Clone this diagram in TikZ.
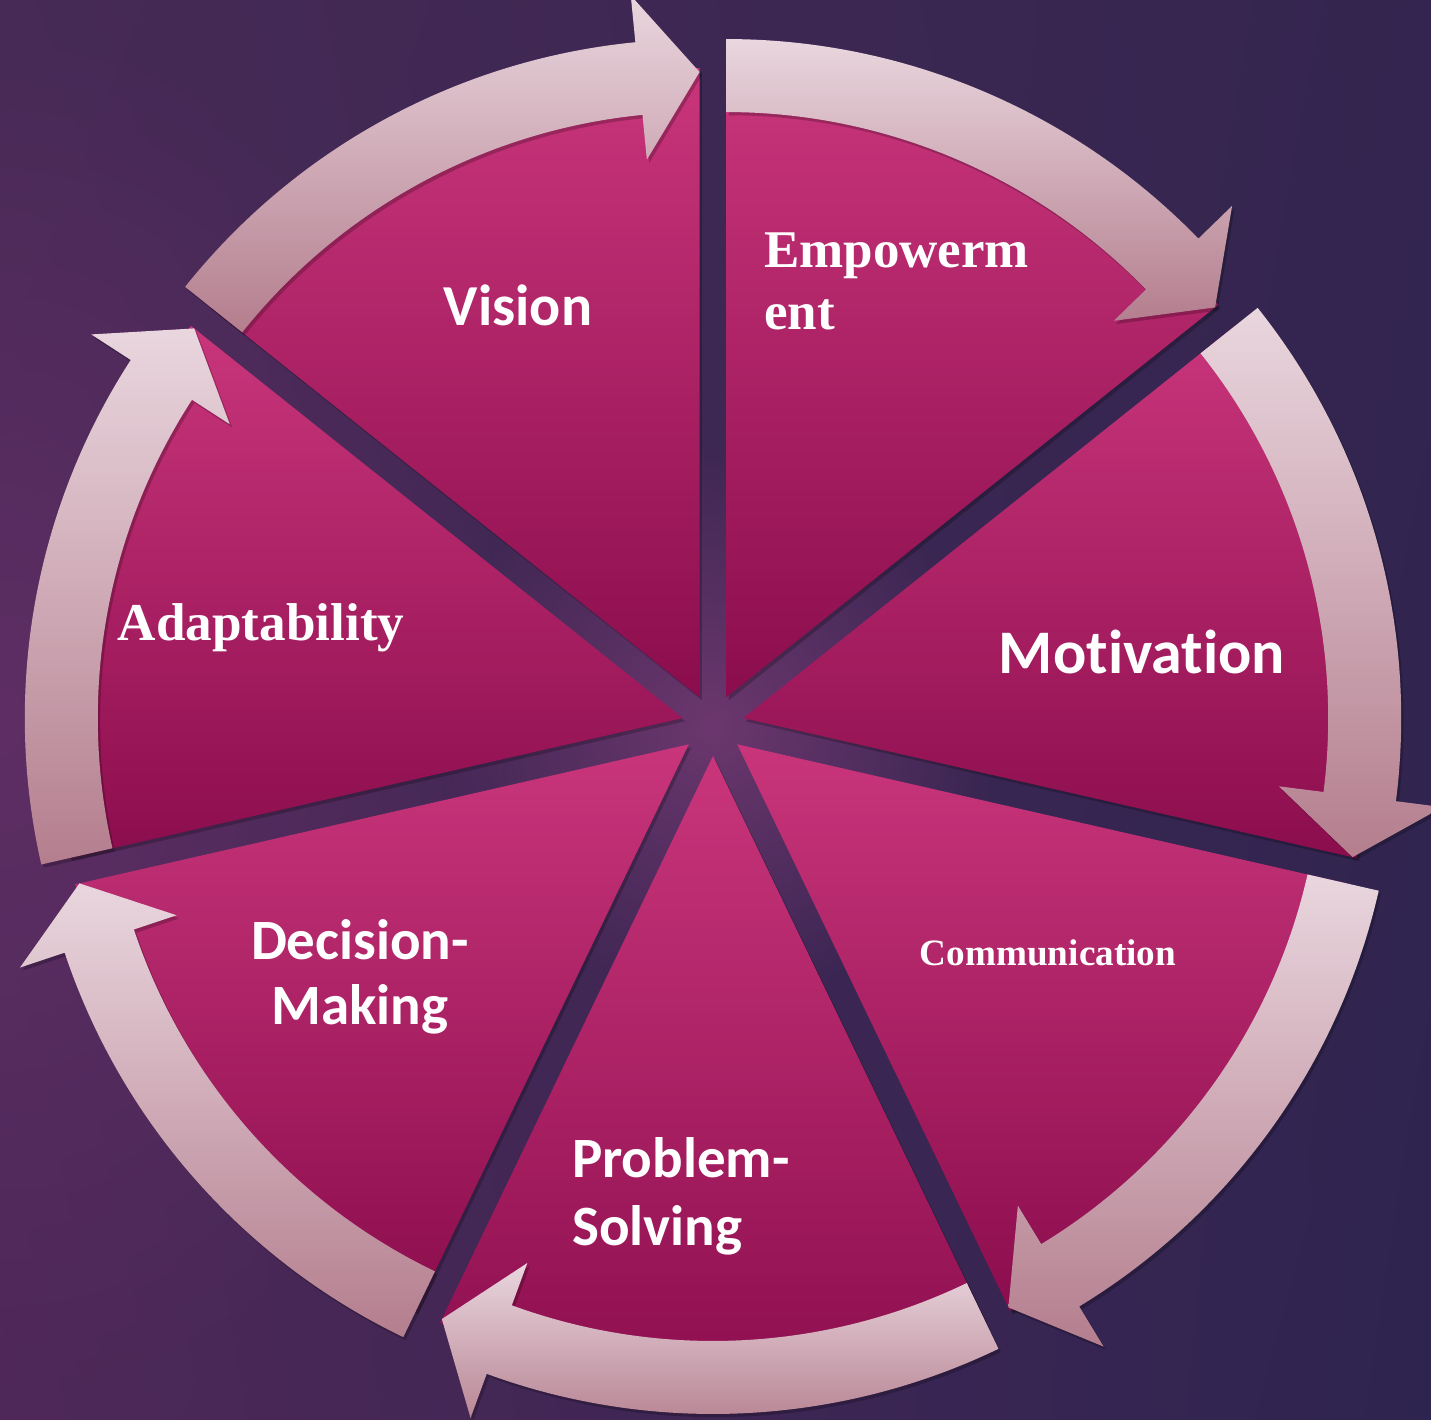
\documentclass[tikz,border=0pt]{standalone}
\usepackage{fontspec}
\setmainfont{Liberation Serif}
\newfontfamily\labelsans[RawFeature={-liga,-clig,-calt,-dlig}]{Carlito}
\usetikzlibrary{calc,fadings,shadows,shadings}

\definecolor{bgUL}{HTML}{472A56}
\definecolor{bgUR}{HTML}{33254F}
\definecolor{bgLL}{HTML}{4E2858}
\definecolor{bgLR}{HTML}{2E2450}
\definecolor{glowL}{HTML}{5E2E64}
\definecolor{glowC}{HTML}{6C376E}
\definecolor{wedgeTop}{HTML}{C9357B}
\definecolor{wedgeBot}{HTML}{8B0D4D}
\definecolor{arrowTop}{HTML}{E9D6DE}
\definecolor{arrowBot}{HTML}{B47E8E}

\tikzfading[name=glowfade, inner color=transparent!0, outer color=transparent!100]

\begin{document}
\begin{tikzpicture}[x=0.5pt,y=0.5pt,
  softshadow/.style={drop shadow={shadow xshift=1.2pt,shadow yshift=-1.6pt,opacity=.22,fill=black}},
  wedge/.style={softshadow, top color=wedgeTop, bottom color=wedgeBot},
  cyclearrow/.style={softshadow, top color=arrowTop, bottom color=arrowBot},
  sanslabel/.style={text=white, font=\labelsans\bfseries},
  seriflabel/.style={text=white, font=\bfseries},
]
% backdrop
\shade[upper left=bgUL, upper right=bgUR, lower left=bgLL, lower right=bgLR]
  (0,0) rectangle (1431,1420);
\useasboundingbox (0,0) rectangle (1431,1420);
\begin{scope}
  \clip (0,0) rectangle (1431,1420);
  \fill[glowL, path fading=glowfade] (0,700) ellipse [x radius=520, y radius=700];
  \fill[glowC, path fading=glowfade] (713,695) circle [radius=280];
\end{scope}

\coordinate (C) at (713,695);

% exploded pie: seven slices pushed out along their bisectors
\foreach \k in {0,...,6} {
  \pgfmathsetmacro\s{141.4286-51.4286*\k}
  \pgfmathsetmacro\e{\s-51.4286}
  \pgfmathsetmacro\b{\s-25.7143}
  \coordinate (O\k) at ($(C)+(\b:31)$);
  \shade[wedge] (O\k) -- ++(\s:629) arc[start angle=\s, end angle=\e, radius=629] -- cycle;
}

% curved clockwise arrows round each slice
\foreach \k in {0,...,6} {
  \pgfmathsetmacro\s{141.4286-51.4286*\k}
  \pgfmathsetmacro\e{\s-51.4286}
  \pgfmathsetmacro\h{\e+5.6}
  \pgfmathsetmacro\b{\s-25.7143}
  \coordinate (A\k) at ($(C)+(\b:31)$);
  \shade[cyclearrow] ($(A\k)+(\s:658)$) arc[start angle=\s, end angle=\h, radius=658]
    -- ($(A\k)+(\h:705)$) -- ($(A\k)+(\e:625)$) -- ($(A\k)+(\h:540)$)
    -- ($(A\k)+(\h:585)$) arc[start angle=\h, end angle=\s, radius=585] -- cycle;
}

% labels
\node[sanslabel, font=\labelsans\bfseries\fontsize{29}{32}\selectfont] (vision) at (518,1115) {Vision};
\node[seriflabel, font=\bfseries\fontsize{26.5}{31}\selectfont, align=left, anchor=west] (empower) at (757,1139) {Empowerm\\ent};
\node[sanslabel, font=\labelsans\bfseries\fontsize{31}{34}\selectfont] (motiv) at (1142,768) {Motivation};
\node[seriflabel, font=\bfseries\fontsize{18.6}{22}\selectfont] (comm) at (1048,467) {Communication};
\node[sanslabel, font=\labelsans\bfseries\fontsize{28.5}{34}\selectfont, align=left, anchor=west] (problem) at (565,224) {Problem-\\Solving};
\node[sanslabel, font=\labelsans\bfseries\fontsize{28.5}{32.5}\selectfont, align=center] (decision) at (360,443) {Decision-\\Making};
\node[seriflabel, font=\bfseries\fontsize{26.6}{30}\selectfont] (adapt) at (261,792) {Adaptability};
\end{tikzpicture}
\end{document}
